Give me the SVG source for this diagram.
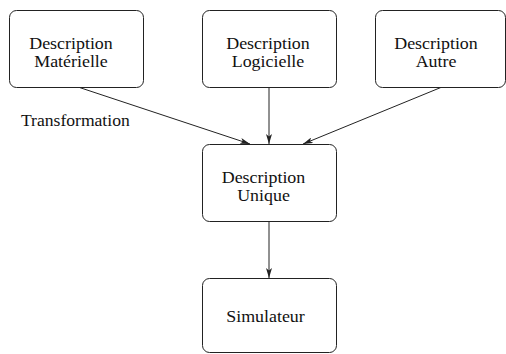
<svg xmlns="http://www.w3.org/2000/svg" width="506" height="354" viewBox="0 0 506 354">
  <style>
    .box { fill: #fff; stroke: #222; stroke-width: 1; }
    .lbl { font-family: 'Liberation Serif', 'Times New Roman', serif; font-size: 16px; fill: #111; text-anchor: middle; }
    .free { font-family: 'Liberation Serif', 'Times New Roman', serif; font-size: 16px; fill: #111; }
    .edge { stroke: #222; stroke-width: 1; fill: none; marker-end: url(#head); }
  </style>
  <defs>
    <marker id="head" viewBox="0 0 10 6" refX="10" refY="3" markerWidth="10" markerHeight="6" markerUnits="userSpaceOnUse" orient="auto">
      <path d="M0,0 L10,3 L0,6 L2.5,3 Z" fill="#222"/>
    </marker>
  </defs>

  <rect width="506" height="354" fill="#fff"/>

  <g id="connectors">
    <line class="edge" x1="78" y1="87" x2="250" y2="144"/>
    <line class="edge" x1="269" y1="87" x2="269" y2="144"/>
    <line class="edge" x1="442" y1="87" x2="303" y2="144"/>
    <line class="edge" x1="269" y1="221" x2="269" y2="278"/>
  </g>

  <!-- labels are stretched slightly wider than tall -->
  <g id="desc-materielle">
    <rect class="box" x="9.5" y="10.5" width="134" height="77" rx="7"/>
    <g transform="translate(71,0) scale(1.12,1)">
      <text class="lbl" x="0" y="49">Description</text>
      <text class="lbl" x="0" y="67">Matérielle</text>
    </g>
  </g>

  <g id="desc-logicielle">
    <rect class="box" x="202.5" y="10.5" width="134" height="77" rx="7"/>
    <g transform="translate(268,0) scale(1.12,1)">
      <text class="lbl" x="0" y="49">Description</text>
      <text class="lbl" x="0" y="67">Logicielle</text>
    </g>
  </g>

  <g id="desc-autre">
    <rect class="box" x="375.5" y="10.5" width="130" height="77" rx="7"/>
    <g transform="translate(436,0) scale(1.12,1)">
      <text class="lbl" x="0" y="49">Description</text>
      <text class="lbl" x="0" y="67">Autre</text>
    </g>
  </g>

  <g id="transformation">
    <g transform="translate(21,0) scale(1.1,1)">
      <text class="free" x="0" y="126">Transformation</text>
    </g>
  </g>

  <g id="desc-unique">
    <rect class="box" x="202.5" y="144.5" width="134" height="77" rx="7"/>
    <g transform="translate(263.5,0) scale(1.12,1)">
      <text class="lbl" x="0" y="183">Description</text>
      <text class="lbl" x="0" y="201">Unique</text>
    </g>
  </g>

  <g id="simulateur">
    <rect class="box" x="202.5" y="278.5" width="134" height="74" rx="7"/>
    <g transform="translate(265.5,0) scale(1.12,1)">
      <text class="lbl" x="0" y="322">Simulateur</text>
    </g>
  </g>
</svg>
